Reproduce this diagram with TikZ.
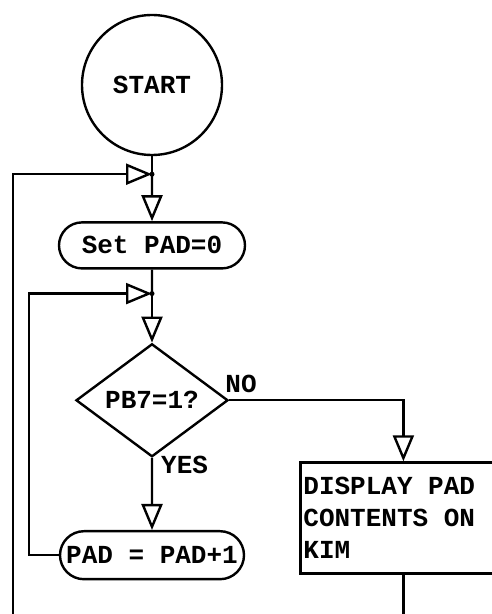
\documentclass[tikz,border=0pt]{standalone}
\usepackage{fontspec}
\setmonofont{Liberation Mono}
\usetikzlibrary{positioning,arrows.meta,shapes.geometric,shapes.misc}
\tikzset{
  chart/.style={font=\ttfamily\bfseries\fontsize{26}{32}\selectfont, line width=2.4pt},
  startnode/.style={draw, circle, minimum size=140pt, inner sep=0pt},
  term/.style={draw, rounded rectangle, minimum width=190pt, minimum height=46pt, inner sep=2pt},
  decide/.style={draw, diamond, aspect=1.35, minimum width=152pt, minimum height=113pt, inner sep=0pt},
  proc/.style={draw, rectangle, text width=200pt, minimum height=111pt, inner sep=3pt, align=flush left},
  flow/.style={-{Triangle[open, length=26pt, width=21pt]}},
  lbl/.style={inner sep=0pt},
}
\begin{document}
\begin{tikzpicture}[chart, x=1pt, y=1pt]
  \path[use as bounding box] (0,0) coordinate (bl) rectangle (491,614);
  \node[startnode] (start) at (152,529) {START};
  \coordinate[below=18pt of start.south] (m1);
  \node[term, below=47pt of m1] (setpad) {Set PAD=0};
  \coordinate[below=24pt of setpad.south] (m2);
  \node[decide, below=49pt of m2] (test) {PB7=1?};
  \node[term, below=72pt of test, minimum width=188pt, minimum height=48pt] (pad) {PAD = PAD+1};
  \node[proc, below right=61pt and 70pt of test.east] (display) {DISPLAY PAD\\CONTENTS ON\\KIM};
  \node[lbl, above right=6pt and -5pt of test.east] (no) {NO};
  \node[lbl, below right=-3pt and 8pt of test.south] (yes) {YES};
  \coordinate (outer) at (13,0);
  \coordinate (exit) at (display.south |- bl);
  % main line
  \draw (start) -- (m1);
  \draw[flow] (m1) -- (setpad);
  \draw (setpad) -- (m2);
  \draw[flow] (m2) -- (test);
  \draw[flow] (test) -- (pad);
  \draw[flow] (test.east) -| (display.north);
  \draw (display.south) -- (exit);
  % loops back
  \draw[flow] (pad.west) -- ++(-30,0) |- (m2);
  \draw[flow] (outer) |- (m1);
  \fill (m1) circle (2.5pt) (m2) circle (2.5pt);
\end{tikzpicture}
\end{document}
